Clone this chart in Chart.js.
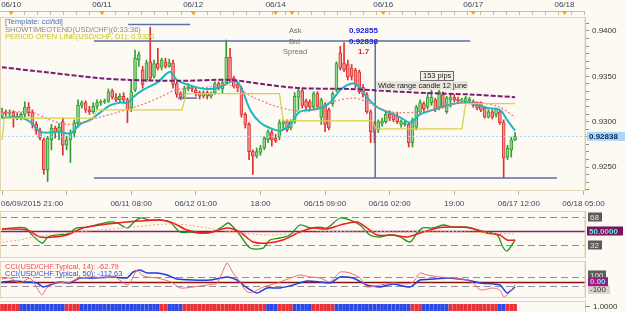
<!DOCTYPE html>
<html lang="en">
<head>
<meta charset="UTF-8">
<title>USD/CHF H1 - cci/tdi</title>
<script src="https://cdn.jsdelivr.net/npm/chart.js"></script>
<style>
    body {
        margin: 0;
        width: 625px;
        height: 312px;
        overflow: hidden;
        position: relative;
        background: #fcfaf3;
    }
    canvas {
        position: absolute;
        left: 0;
    }
    #mainChart { top: 0; }
    #tdiChart { top: 211px; }
    #cciChart { top: 261px; }
    #stripChart { top: 300px; }
</style>
</head>
<body>
<canvas id="mainChart" width="625" height="212"></canvas>
<canvas id="tdiChart" width="625" height="47"></canvas>
<canvas id="cciChart" width="625" height="37"></canvas>
<canvas id="stripChart" width="625" height="12"></canvas>

<script>
// USD/CHF H1 candles, 06/09 21:00 .. 06/17 11:00 (index = hour bar)
const opens = [
    0.9306, 0.9311, 0.9309, 0.9310, 0.9306, 0.9304, 0.9308, 0.9316, 0.9310, 0.9297,
    0.9290, 0.9280, 0.9247, 0.9280, 0.9293, 0.9289, 0.9300, 0.9274, 0.9280, 0.9288,
    0.9299, 0.9318, 0.9321, 0.9313, 0.9311, 0.9317, 0.9321, 0.9322, 0.9323, 0.9334,
    0.9327, 0.9324, 0.9328, 0.9324, 0.9315, 0.9335, 0.9368, 0.9357, 0.9346, 0.9366,
    0.9350, 0.9364, 0.9360, 0.9366, 0.9361, 0.9365, 0.9342, 0.9331, 0.9327, 0.9336,
    0.9337, 0.9335, 0.9332, 0.9328, 0.9332, 0.9328, 0.9332, 0.9342, 0.9336, 0.9343,
    0.9371, 0.9348, 0.9341, 0.9337, 0.9308, 0.9297, 0.9267, 0.9262, 0.9266, 0.9271,
    0.9280, 0.9288, 0.9282, 0.9283, 0.9298, 0.9300, 0.9293, 0.9300, 0.9327, 0.9334,
    0.9323, 0.9322, 0.9316, 0.9331, 0.9305, 0.9318, 0.9313, 0.9320, 0.9335, 0.9376,
    0.9365, 0.9363, 0.9359, 0.9357, 0.9355, 0.9338, 0.9330, 0.9311, 0.9297, 0.9291,
    0.9298, 0.9300, 0.9308, 0.9308, 0.9306, 0.9297, 0.9297, 0.9297, 0.9277, 0.9294,
    0.9311, 0.9320, 0.9316, 0.9321, 0.9324, 0.9316, 0.9330, 0.9311, 0.9324, 0.9327,
    0.9325, 0.9323, 0.9322, 0.9323, 0.9322, 0.9318, 0.9320, 0.9315, 0.9305, 0.9311,
    0.9308, 0.9311, 0.9299, 0.9261, 0.9269, 0.9280
];
const highs = [
    0.9315, 0.9313, 0.9313, 0.9312, 0.9310, 0.9310, 0.9322, 0.9321, 0.9313, 0.9300,
    0.9293, 0.9282, 0.9284, 0.9297, 0.9295, 0.9298, 0.9304, 0.9284, 0.9291, 0.9302,
    0.9324, 0.9323, 0.9323, 0.9317, 0.9321, 0.9324, 0.9324, 0.9325, 0.9336, 0.9336,
    0.9331, 0.9331, 0.9332, 0.9326, 0.9346, 0.9379, 0.9377, 0.9361, 0.9368, 0.9404,
    0.9368, 0.9381, 0.9370, 0.9370, 0.9369, 0.9368, 0.9344, 0.9333, 0.9339, 0.9342,
    0.9339, 0.9337, 0.9334, 0.9334, 0.9334, 0.9333, 0.9344, 0.9344, 0.9345, 0.9390,
    0.9381, 0.9350, 0.9344, 0.9339, 0.9310, 0.9299, 0.9269, 0.9271, 0.9274, 0.9284,
    0.9291, 0.9291, 0.9286, 0.9302, 0.9302, 0.9302, 0.9302, 0.9332, 0.9336, 0.9336,
    0.9325, 0.9324, 0.9333, 0.9333, 0.9326, 0.9321, 0.9315, 0.9333, 0.9366, 0.9383,
    0.9387, 0.9368, 0.9363, 0.9359, 0.9357, 0.9341, 0.9332, 0.9313, 0.9300, 0.9302,
    0.9304, 0.9311, 0.9312, 0.9310, 0.9310, 0.9302, 0.9301, 0.9299, 0.9304, 0.9318,
    0.9324, 0.9322, 0.9332, 0.9335, 0.9326, 0.9337, 0.9333, 0.9328, 0.9330, 0.9330,
    0.9327, 0.9326, 0.9328, 0.9327, 0.9324, 0.9322, 0.9322, 0.9317, 0.9313, 0.9313,
    0.9315, 0.9313, 0.9302, 0.9274, 0.9283, 0.9288
];
const lows = [
    0.9304, 0.9306, 0.9305, 0.9294, 0.9302, 0.9302, 0.9305, 0.9306, 0.9293, 0.9286,
    0.9280, 0.9242, 0.9234, 0.9269, 0.9282, 0.9280, 0.9263, 0.9269, 0.9255, 0.9283,
    0.9294, 0.9315, 0.9310, 0.9308, 0.9309, 0.9314, 0.9318, 0.9320, 0.9321, 0.9325,
    0.9322, 0.9321, 0.9321, 0.9299, 0.9311, 0.9333, 0.9361, 0.9337, 0.9344, 0.9346,
    0.9348, 0.9357, 0.9357, 0.9359, 0.9360, 0.9337, 0.9327, 0.9324, 0.9325, 0.9334,
    0.9333, 0.9328, 0.9325, 0.9326, 0.9325, 0.9326, 0.9330, 0.9335, 0.9332, 0.9341,
    0.9344, 0.9337, 0.9333, 0.9305, 0.9293, 0.9258, 0.9242, 0.9260, 0.9263, 0.9269,
    0.9277, 0.9273, 0.9277, 0.9280, 0.9291, 0.9289, 0.9291, 0.9298, 0.9313, 0.9315,
    0.9313, 0.9313, 0.9314, 0.9315, 0.9297, 0.9289, 0.9291, 0.9317, 0.9333, 0.9357,
    0.9355, 0.9346, 0.9346, 0.9337, 0.9331, 0.9327, 0.9309, 0.9277, 0.9277, 0.9288,
    0.9295, 0.9298, 0.9301, 0.9300, 0.9298, 0.9294, 0.9295, 0.9272, 0.9272, 0.9291,
    0.9309, 0.9311, 0.9314, 0.9318, 0.9311, 0.9313, 0.9315, 0.9309, 0.9316, 0.9322,
    0.9321, 0.9321, 0.9320, 0.9321, 0.9316, 0.9313, 0.9311, 0.9304, 0.9304, 0.9303,
    0.9305, 0.9297, 0.9238, 0.9258, 0.9261, 0.9279
];
const closes = [
    0.9311, 0.9309, 0.9310, 0.9306, 0.9304, 0.9308, 0.9316, 0.9310, 0.9297, 0.9290,
    0.9282, 0.9247, 0.9282, 0.9293, 0.9289, 0.9294, 0.9274, 0.9280, 0.9288, 0.9299,
    0.9318, 0.9321, 0.9313, 0.9311, 0.9317, 0.9321, 0.9322, 0.9323, 0.9333, 0.9327,
    0.9324, 0.9328, 0.9324, 0.9313, 0.9333, 0.9370, 0.9374, 0.9341, 0.9365, 0.9348,
    0.9364, 0.9359, 0.9368, 0.9361, 0.9365, 0.9341, 0.9330, 0.9327, 0.9337, 0.9338,
    0.9336, 0.9332, 0.9328, 0.9332, 0.9328, 0.9331, 0.9342, 0.9337, 0.9343, 0.9371,
    0.9346, 0.9339, 0.9337, 0.9308, 0.9297, 0.9267, 0.9262, 0.9267, 0.9271, 0.9282,
    0.9289, 0.9280, 0.9279, 0.9299, 0.9300, 0.9291, 0.9300, 0.9328, 0.9334, 0.9318,
    0.9316, 0.9316, 0.9331, 0.9317, 0.9324, 0.9297, 0.9293, 0.9331, 0.9364, 0.9359,
    0.9357, 0.9349, 0.9350, 0.9341, 0.9333, 0.9330, 0.9311, 0.9289, 0.9288, 0.9300,
    0.9301, 0.9308, 0.9304, 0.9302, 0.9300, 0.9300, 0.9299, 0.9277, 0.9302, 0.9316,
    0.9321, 0.9314, 0.9327, 0.9327, 0.9313, 0.9333, 0.9316, 0.9326, 0.9327, 0.9324,
    0.9323, 0.9324, 0.9326, 0.9325, 0.9318, 0.9315, 0.9313, 0.9305, 0.9311, 0.9305,
    0.9314, 0.9299, 0.9260, 0.9271, 0.9280, 0.92838
];

// moving averages on the price window (bar index, price)
const slowMaX = [0, 12.6, 25.8, 33.7, 46.8, 60, 69.2, 78.4, 91.6, 104.7, 115.3, 123.2, 135];
const slowMaY = [0.9360, 0.9354, 0.9348, 0.9346, 0.9345, 0.9346, 0.9341, 0.9337, 0.9336, 0.9333, 0.9331, 0.9330, 0.9327];
const fastMaX = [0, 4.7, 7.4, 10, 12.6, 15.3, 17.1, 18.4, 20.5, 23.2, 25.8, 28.4, 31, 33.2, 34.5, 37.1, 40.8,
    44.2, 46, 48.7, 52.1, 54.7, 57.4, 60.8, 62.1, 63.4, 65.3, 67.9, 70.5, 73.2, 75.8, 78.4, 82.9, 86.3, 89,
    92.1, 94.2, 96, 98.7, 101.3, 104.7, 107.4, 110, 113.4, 117.1, 120.5, 124, 127.6, 131, 132.9, 135];
const fastMaY = [0.9304, 0.9305, 0.9300, 0.9289, 0.9288, 0.9289, 0.9287, 0.9288, 0.9297, 0.9302, 0.9310, 0.9318,
    0.9321, 0.9321, 0.9327, 0.9335, 0.9343, 0.9355, 0.9346, 0.9341, 0.9337, 0.9336, 0.9338, 0.9345, 0.9343,
    0.9333, 0.9313, 0.9299, 0.9293, 0.9290, 0.9297, 0.9311, 0.9314, 0.9321, 0.9335, 0.9342, 0.9338, 0.9327,
    0.9316, 0.9311, 0.9305, 0.9299, 0.9308, 0.9313, 0.9318, 0.9321, 0.9320, 0.9315, 0.9313, 0.9302, 0.9290];
const midMaX = [0, 4.7, 8.2, 12.6, 17.1, 20.5, 25.8, 31, 36.3, 41.6, 45, 48.7, 53.9, 59.2, 62.6, 66.1, 71.3,
    75.8, 80.3, 82.9, 87.1, 92.4, 96, 100.3, 104.7, 110, 115.3, 120.5, 125.8, 131, 135];
const midMaY = [0.9310, 0.9311, 0.9310, 0.9302, 0.9297, 0.9299, 0.9305, 0.9311, 0.9318, 0.9327, 0.9334, 0.9337,
    0.9338, 0.9341, 0.9335, 0.9327, 0.9318, 0.9313, 0.9311, 0.9315, 0.9322, 0.9326, 0.9322, 0.9313, 0.9310,
    0.9311, 0.9315, 0.9321, 0.9321, 0.9316, 0.9305];
// period open line (D1)
const openLineX = [0, 0.6, 24, 25, 47.4, 48.4, 73, 74, 97.4, 98.4, 121, 122, 135];
const openLineY = [0.9280, 0.9304, 0.9304, 0.9313, 0.9313, 0.9331, 0.9331, 0.9301, 0.9301, 0.9292, 0.9292, 0.9320, 0.9320];

// hand drawn range lines
const objLinePrice = [0.9407, 0.9389, 0.9238, 0.9326];
const objLineFrom = [33.2, 24.2, 24.2, 46.3];
const objLineTo = [49.5, 123.2, 146, 51.3];
const rangeBarIdx = 98.2;

const askPrice = 0.92855;
const bidPrice = 0.92838;
const spread = 1.7;

// time axes
const timeTickIdx = [0, 17, 34, 51, 68, 85, 102, 119, 136, 153];
const timeTickLabels = ['06/09/2015 21:00', '', '06/11 08:00', '06/12 01:00', '18:00', '06/15 09:00',
    '06/16 02:00', '19:00', '06/17 12:00', '06/18 05:00'];
const topDateIdx = [2.4, 26.3, 50.3, 72, 100.3, 124, 148];
const topDateLabels = ['06/10', '06/11', '06/12', '06/14', '06/16', '06/17', '06/18'];
const topMarkIdx = [2.4, 26.3, 50.3, 72, 76.3, 100.3, 124, 148];

// TDI window
const tdiPriceX = [0, 2.9, 6.1, 7.9, 10, 10.8, 12.1, 14.5, 17.1, 19.7, 22.4, 25.8, 28.4, 30.3, 32.9, 34.5, 36.3,
    38.9, 41.6, 44.2, 46.8, 49.5, 52.1, 55.5, 57.9, 59.5, 60.8, 62.6, 65.3, 68.7, 70.5, 73.2, 75.8, 78.4, 81.1,
    83.7, 85.5, 89, 91.6, 94.2, 96.8, 99.5, 102.1, 104.7, 107.4, 109.2, 110.8, 113.4, 116.1, 118.7, 122.4, 125,
    127.6, 130.3, 131.8, 132.9, 135];
const tdiPrice = [52.6, 53.9, 53.9, 44.9, 35.9, 34.6, 42.3, 44.9, 46.1, 53.9, 55.1, 59, 61.6, 60.3, 53.9, 60.3,
    66.7, 64.1, 64.1, 61.6, 48.7, 48.7, 47.4, 48.7, 55.1, 60.3, 55.1, 44.9, 28.1, 28.1, 38.4, 41, 44.9, 57.7,
    53.9, 55.1, 53.9, 66.7, 64.1, 57.7, 44.9, 42.3, 44.9, 42.3, 35.9, 47.4, 53.9, 53.9, 57.7, 55.1, 55.1, 51.3,
    48.7, 44.9, 29.4, 24.3, 38.4];
const tdiSignalX = [0, 6.6, 10, 13.4, 17.1, 21.3, 25.8, 30.3, 36.3, 41.6, 45, 48.7, 53.9, 59.2, 62.6, 66.1, 69.7,
    73.9, 78.4, 81.8, 85.5, 89, 93.4, 96, 98.7, 102.9, 106.6, 110, 114.5, 118.7, 123.2, 127.6, 131, 132.9, 135];
const tdiSignal = [52.6, 51.3, 42.3, 42.3, 44.9, 53.9, 57.7, 60.3, 62.9, 64.1, 60.3, 51.3, 47.4, 53.9, 48.7, 35.9,
    34.6, 38.4, 48.7, 53.9, 52.6, 57.7, 61.6, 53.9, 44.9, 44.9, 42.3, 47.4, 53.9, 55.1, 53.9, 47.4, 44.9, 38.4, 38.4];
const tdiBaseX = [0, 4.7, 8.2, 12.6, 17.1, 25.8, 34.5, 43.4, 48.7, 53.9, 60.8, 69.7, 78.4, 83.7, 96, 104.7, 113.4, 122.4, 135];
const tdiBase = [35.9, 38.4, 42.3, 44.9, 47.4, 51.3, 55.1, 59, 57.7, 53.9, 48.7, 44.9, 47.4, 48.7, 50, 48.7, 50, 48.7, 46.1];
const tdiLevels = [68, 50, 32];

// CCI window
const cci14X = [0, 2.1, 4.7, 7.4, 8.7, 10.5, 11.8, 14.5, 17.1, 20.5, 24, 26.6, 29.7, 33.2, 35.5, 36.8, 38.2, 40.8,
    44.5, 46.8, 50.3, 53.9, 56.6, 59.2, 60.8, 62.6, 64.5, 66.1, 68.7, 72.4, 76.6, 78.4, 81, 83.7, 86.3, 89, 91.6,
    94.2, 96, 99.5, 102.9, 106.6, 108.2, 110, 111.8, 115.3, 118.7, 122.4, 124, 125.8, 129.2, 131, 132.1, 133.7, 135];
const cci14 = [57, 79, -28, 79, -70, -283, -134, -6, -28, 79, 100, 79, 100, -70, 249, 143, 100, 79, -6, -134, -113,
    -70, -28, 398, 185, -6, -219, -219, -113, -28, 100, 143, 100, 79, -6, 206, 185, 79, -113, -70, -28, -49, -6,
    185, 143, 100, 79, 36, -28, -177, -134, -177, -326, -219, -62.79];
const cci50X = [0, 2.9, 6.6, 9.2, 10.8, 12.6, 15.3, 17.9, 20.5, 24, 29.2, 32.9, 34.5, 36.3, 38.2, 40.8, 43.4, 46,
    50.3, 54.7, 59.2, 61.8, 64.5, 67.1, 69.7, 73.2, 76.6, 80.3, 83.7, 86.3, 89, 92.4, 96, 99.5, 102.9, 107.4, 110,
    113.4, 117.1, 122.4, 125.8, 131, 132.9, 135];
const cci50 = [-6, 15, -6, -28, -113, -70, -6, -28, 79, 79, 100, 79, 206, 249, 185, 185, 143, 57, 36, 36, 100, 36,
    -134, -240, -134, -134, -70, 15, -6, -28, 100, 79, -70, -113, -49, -113, 36, 57, 79, 36, -28, -70, -240, -112.63];
const cciLevels = [100, 0, -100];

// bottom trend strip: 1 = blue, 0 = red
const trendStrip = [
    0, 0, 0, 0, 0, 1, 1, 1, 1, 1, 1, 1, 1, 1, 1, 1, 1, 0, 0, 0,
    0, 1, 1, 1, 1, 1, 1, 1, 1, 1, 1, 1, 1, 1, 1, 1, 1, 1, 1, 1,
    1, 1, 0, 0, 1, 1, 1, 1, 0, 0, 0, 0, 0, 0, 0, 0, 0, 0, 0, 0,
    0, 0, 0, 0, 0, 0, 0, 0, 0, 0, 1, 1, 1, 0, 0, 0, 0, 1, 1, 1,
    1, 1, 0, 0, 0, 0, 0, 0, 1, 1, 1, 1, 1, 1, 1, 1, 1, 1, 1, 1,
    1, 1, 1, 1, 1, 1, 1, 1, 0, 0, 0, 1, 1, 1, 1, 1, 1, 1, 0, 0,
    0, 0, 0, 0, 0, 0, 0, 0, 0, 0, 0, 1, 1, 0, 0, 0
];

Chart.defaults.font.family = '"Liberation Sans", Arial, sans-serif';
Chart.defaults.font.size = 8;
Chart.defaults.animation = false;
Chart.defaults.plugins.legend.display = false;
Chart.defaults.plugins.tooltip.enabled = false;

const xMin = -0.53, xMax = 153.4;
const priceMin = 0.92247, priceMax = 0.94154;
const frameColor = '#e2d5b5';
const idx = opens.map((o, i) => i);
const isUp = i => closes[i] >= opens[i];

function pts(xs, ys) {
    return xs.map((x, k) => ({ x: x, y: ys[k] }));
}
function lineSet(data, color, width, dash, tension) {
    return { type: 'line', data: data, borderColor: color, borderWidth: width, borderDash: dash || [],
        pointRadius: 0, tension: tension || 0, order: 1 };
}
function label(ctx, text, x, y, bg, fg, w, bold) {
    ctx.fillStyle = bg;
    ctx.fillRect(x, y - 4.5, w, 9);
    ctx.fillStyle = fg;
    ctx.font = (bold ? 'bold ' : '') + '8px "Liberation Sans", Arial';
    ctx.textAlign = 'left';
    ctx.textBaseline = 'middle';
    ctx.fillText(text, x + 2, y + 0.5);
}
function linearX() {
    return { type: 'linear', min: xMin, max: xMax, display: false, offset: false, grid: { offset: false } };
}
function rightAxis(min, max) {
    return { position: 'right', min: min, max: max, grid: { display: false },
        ticks: { display: false }, border: { color: '#c9c0a8' },
        afterFit: s => { s.width = 40; } };
}

// ---------- main price window ----------
const mainDecor = {
    id: 'mainDecor',
    afterDraw(chart) {
        const { ctx, chartArea: a } = chart;
        const xs = chart.scales.x, ys = chart.scales.y;
        ctx.save();
        ctx.strokeStyle = frameColor;
        ctx.lineWidth = 1;
        ctx.strokeRect(0.5, a.top + 0.5, a.right - 0.5, a.bottom - a.top);

        // top date strip
        ctx.strokeStyle = '#c9bd9c';
        ctx.beginPath();
        ctx.moveTo(0, 11.5);
        ctx.lineTo(a.right, 11.5);
        const step = 24 / 7;
        for (let v = topDateIdx[0] - step; v < xMax; v += step) {
            const px = Math.round(xs.getPixelForValue(v)) + 0.5;
            if (px < 0) continue;
            ctx.moveTo(px, 11);
            ctx.lineTo(px, 15);
        }
        ctx.stroke();
        ctx.fillStyle = '#f2a31b';
        topMarkIdx.forEach(v => {
            const px = xs.getPixelForValue(v);
            ctx.beginPath();
            ctx.moveTo(px - 3, 11);
            ctx.lineTo(px + 3, 11);
            ctx.lineTo(px, 15);
            ctx.closePath();
            ctx.fill();
        });
        ctx.fillStyle = '#3a4560';
        ctx.font = '8px "Liberation Sans", Arial';
        ctx.textAlign = 'center';
        ctx.textBaseline = 'middle';
        topDateLabels.forEach((t, k) => {
            ctx.fillText(t, Math.max(xs.getPixelForValue(topDateIdx[k]), 11), 5);
        });

        // bottom time labels
        timeTickLabels.forEach((t, k) => {
            if (!t) return;
            if (k === 0) {
                ctx.textAlign = 'left';
                ctx.fillText(t, 1, 204);
            } else {
                ctx.textAlign = 'center';
                ctx.fillText(t, xs.getPixelForValue(timeTickIdx[k]), 204);
            }
        });

        // indicator captions
        ctx.textAlign = 'left';
        ctx.font = '7.5px "Liberation Sans", Arial';
        ctx.fillStyle = '#4f6fc4';
        ctx.fillText('[Template: cci/tdi]', 5, 22);
        ctx.fillStyle = '#8a8a8a';
        ctx.fillText('SHOWTIMEOTEND(USD/CHF)(0:33:36)', 5, 29.5);
        ctx.fillStyle = '#c9c12a';
        ctx.fillText('PERIOD OPEN LINE(USD/CHF, D1): 0.9320', 5, 37);

        // ask / bid / spread
        ctx.fillStyle = '#707070';
        ctx.fillText('Ask', 289, 31);
        ctx.fillText('Bid', 289, 41.5);
        ctx.fillText('Spread', 283, 51.5);
        ctx.font = 'bold 8px "Liberation Sans", Arial';
        ctx.fillStyle = '#1d1de0';
        ctx.fillText(askPrice.toFixed(5), 349, 31);
        ctx.fillText(bidPrice.toFixed(5), 349, 41.5);
        ctx.fillStyle = '#ee2020';
        ctx.fillText(spread.toFixed(1), 358, 51.5);

        // text objects
        ctx.font = '7.5px "Liberation Sans", Arial';
        ctx.fillStyle = '#f3f0e8';
        ctx.fillRect(420, 71, 33, 9);
        ctx.strokeStyle = '#6a6a6a';
        ctx.strokeRect(420.5, 71.5, 33, 9);
        ctx.fillStyle = '#202020';
        ctx.fillText('153 pips', 423, 76);
        ctx.fillStyle = '#e9e6de';
        ctx.fillRect(376, 81, 92, 9);
        ctx.fillStyle = '#202020';
        ctx.fillText('Wide range candle 12 june', 378, 86);

        // current bid box
        const py = ys.getPixelForValue(bidPrice);
        label(ctx, bidPrice.toFixed(5), 587, py, '#a6daf3', '#10245e', 38, true);
        ctx.restore();
    }
};

const objLineSets = objLinePrice.map((p, k) =>
    lineSet([{ x: objLineFrom[k], y: p }, { x: objLineTo[k], y: p }], '#5d6ca6', 1.5));

new Chart(document.getElementById('mainChart'), {
    type: 'bar',
    data: {
        datasets: [
            {
                data: idx.map(i => ({ x: i, y: [lows[i], highs[i]] })),
                backgroundColor: c => isUp(c.dataIndex) ? '#2e9e2e' : '#e02f2f',
                barThickness: 1, grouped: false, order: 9
            },
            {
                data: idx.map(i => ({ x: i, y: [opens[i], closes[i]] })),
                backgroundColor: c => isUp(c.dataIndex) ? '#92d592' : '#f39494',
                borderColor: c => isUp(c.dataIndex) ? '#2e9e2e' : '#e02f2f',
                borderWidth: 1, borderSkipped: false, barThickness: 3, minBarLength: 1,
                grouped: false, order: 8
            },
            lineSet(pts(openLineX, openLineY), '#d8d146', 1.2),
            lineSet(pts(slowMaX, slowMaY), '#7a1d72', 2, [5, 2], 0.3),
            lineSet(pts(midMaX, midMaY), '#f27474', 1.2, [2, 2], 0.3),
            lineSet(pts(fastMaX, fastMaY), '#1fb6bf', 2, [], 0.3),
            lineSet([{ x: xMin, y: bidPrice }, { x: xMax, y: bidPrice }], '#a9d8f2', 1, [2, 2]),
            ...objLineSets,
            lineSet([{ x: rangeBarIdx, y: objLinePrice[1] }, { x: rangeBarIdx, y: objLinePrice[2] }], '#5d6ca6', 1.5)
        ]
    },
    options: {
        responsive: false,
        layout: { padding: { top: 17, left: 0, right: 0, bottom: 0 } },
        scales: {
            x: {
                type: 'linear', min: xMin, max: xMax, offset: false, position: 'bottom',
                grid: { drawOnChartArea: false, drawTicks: true, tickLength: 5, color: '#b8b09c', offset: false },
                border: { color: frameColor },
                ticks: { display: false },
                afterBuildTicks: s => { s.ticks = timeTickIdx.map(v => ({ value: v })); },
                afterFit: s => { s.height = 22; }
            },
            y: {
                position: 'right', min: priceMin, max: priceMax,
                grid: { drawOnChartArea: false, tickLength: 4, color: '#8c8c8c' },
                border: { color: '#c9c0a8' },
                ticks: {
                    autoSkip: false, padding: 3, color: '#333333', font: { size: 8 },
                    callback: v => Math.abs(v * 200 - Math.round(v * 200)) < 1e-6 ? v.toFixed(4) : ''
                },
                afterBuildTicks: s => {
                    const t = [];
                    for (let k = 0; k < 40; k++) {
                        const v = 0.9225 + k * 0.005 / 6;
                        if (v <= priceMax) t.push({ value: v });
                    }
                    s.ticks = t;
                },
                afterFit: s => { s.width = 40; }
            }
        }
    },
    plugins: [mainDecor]
});

// ---------- TDI window ----------
const tdiDecor = {
    id: 'tdiDecor',
    beforeDatasetsDraw(chart) {
        const { ctx, chartArea: a } = chart;
        const ys = chart.scales.y;
        ctx.save();
        tdiLevels.forEach(v => {
            const py = Math.round(ys.getPixelForValue(v)) + 0.5;
            ctx.beginPath();
            if (v === 50) {
                ctx.strokeStyle = '#8b1f62';
                ctx.lineWidth = 1.5;
                ctx.setLineDash([]);
            } else {
                ctx.strokeStyle = '#8f8f8f';
                ctx.lineWidth = 1;
                ctx.setLineDash([7, 4]);
            }
            ctx.moveTo(a.left, py);
            ctx.lineTo(a.right, py);
            ctx.stroke();
        });
        ctx.restore();
    },
    afterDraw(chart) {
        const { ctx, chartArea: a } = chart;
        const ys = chart.scales.y;
        ctx.save();
        ctx.strokeStyle = frameColor;
        ctx.strokeRect(0.5, a.top + 0.5, a.right - 0.5, a.height - 1);
        label(ctx, '68', 588, ys.getPixelForValue(68), '#5b5b5b', '#e8e8e8', 14);
        label(ctx, '50.0000', 587, ys.getPixelForValue(50), '#7d1259', '#5ff0f0', 36, true);
        label(ctx, '32', 588, ys.getPixelForValue(32), '#5b5b5b', '#e8e8e8', 14);
        ctx.restore();
    }
};

new Chart(document.getElementById('tdiChart'), {
    type: 'line',
    data: {
        datasets: [
            lineSet(pts(tdiBaseX, tdiBase), '#f2a772', 1, [2, 2], 0.3),
            lineSet(pts(tdiSignalX, tdiSignal), '#f01c1c', 1.5, [], 0.3),
            lineSet(pts(tdiPriceX, tdiPrice), '#1f931f', 1.3, [], 0.3)
        ]
    },
    options: {
        responsive: false,
        layout: { padding: 0 },
        scales: { x: linearX(), y: rightAxis(15.3, 75.7) }
    },
    plugins: [tdiDecor]
});

// ---------- CCI window ----------
const cciDecor = {
    id: 'cciDecor',
    beforeDatasetsDraw(chart) {
        const { ctx, chartArea: a } = chart;
        const ys = chart.scales.y;
        ctx.save();
        cciLevels.forEach(v => {
            const py = Math.round(ys.getPixelForValue(v)) + 0.5;
            ctx.beginPath();
            if (v === 0) {
                ctx.strokeStyle = '#8a1414';
                ctx.lineWidth = 1.5;
                ctx.setLineDash([]);
            } else {
                ctx.strokeStyle = '#8f8f9f';
                ctx.lineWidth = 1;
                ctx.setLineDash([7, 4]);
            }
            ctx.moveTo(a.left, py);
            ctx.lineTo(a.right, py);
            ctx.stroke();
        });
        ctx.restore();
    },
    afterDraw(chart) {
        const { ctx, chartArea: a } = chart;
        const ys = chart.scales.y;
        ctx.save();
        ctx.strokeStyle = frameColor;
        ctx.strokeRect(0.5, a.top + 0.5, a.right - 0.5, a.height - 1);
        ctx.font = '7.5px "Liberation Sans", Arial';
        ctx.textAlign = 'left';
        ctx.textBaseline = 'middle';
        ctx.fillStyle = '#f04b4b';
        ctx.fillText('CCI(USD/CHF.Typical, 14): ' + cci14[cci14.length - 1].toFixed(2), 5, 6);
        ctx.fillStyle = '#2f4fe0';
        ctx.fillText('CCI(USD/CHF.Typical, 50): ' + cci50[cci50.length - 1].toFixed(2), 5, 13);
        label(ctx, '100', 588, ys.getPixelForValue(100) - 2, '#5b5b5b', '#e8e8e8', 18);
        label(ctx, '-100', 588, ys.getPixelForValue(-100) + 3, '#d8d4cc', '#333333', 22);
        label(ctx, '0.00', 588, ys.getPixelForValue(0), '#a3187f', '#5ff0f0', 20, true);
        ctx.restore();
    }
};

new Chart(document.getElementById('cciChart'), {
    type: 'line',
    data: {
        datasets: [
            lineSet(pts(cci14X, cci14), '#f26a6a', 1, [], 0.2),
            lineSet(pts(cci50X, cci50), '#1f3be6', 1.5, [], 0.2)
        ]
    },
    options: {
        responsive: false,
        layout: { padding: 0 },
        scales: { x: linearX(), y: rightAxis(-347, 440) }
    },
    plugins: [cciDecor]
});

// ---------- trend strip ----------
const stripDecor = {
    id: 'stripDecor',
    afterDraw(chart) {
        const { ctx, chartArea: a } = chart;
        ctx.save();
        ctx.strokeStyle = frameColor;
        ctx.beginPath();
        ctx.moveTo(0, 1.5);
        ctx.lineTo(a.right, 1.5);
        ctx.moveTo(a.right + 0.5, 0);
        ctx.lineTo(a.right + 0.5, 12);
        ctx.stroke();
        ctx.strokeStyle = '#8c8c8c';
        ctx.beginPath();
        ctx.moveTo(a.right, 6.5);
        ctx.lineTo(a.right + 5, 6.5);
        ctx.stroke();
        ctx.fillStyle = '#333333';
        ctx.font = '8px "Liberation Sans", Arial';
        ctx.textBaseline = 'middle';
        ctx.fillText('1.0000', 593, 7);
        ctx.restore();
    }
};

new Chart(document.getElementById('stripChart'), {
    type: 'bar',
    data: {
        datasets: [{
            data: idx.map(i => ({ x: i, y: 1 })),
            backgroundColor: c => trendStrip[c.dataIndex] ? '#2c49e6' : '#e8323a',
            barThickness: 3
        }]
    },
    options: {
        responsive: false,
        layout: { padding: { top: 4, bottom: 1 } },
        scales: {
            x: linearX(),
            y: { position: 'right', min: 0, max: 1, grid: { display: false }, ticks: { display: false },
                border: { display: false }, afterFit: s => { s.width = 40; } }
        }
    },
    plugins: [stripDecor]
});
</script>
</body>
</html>
